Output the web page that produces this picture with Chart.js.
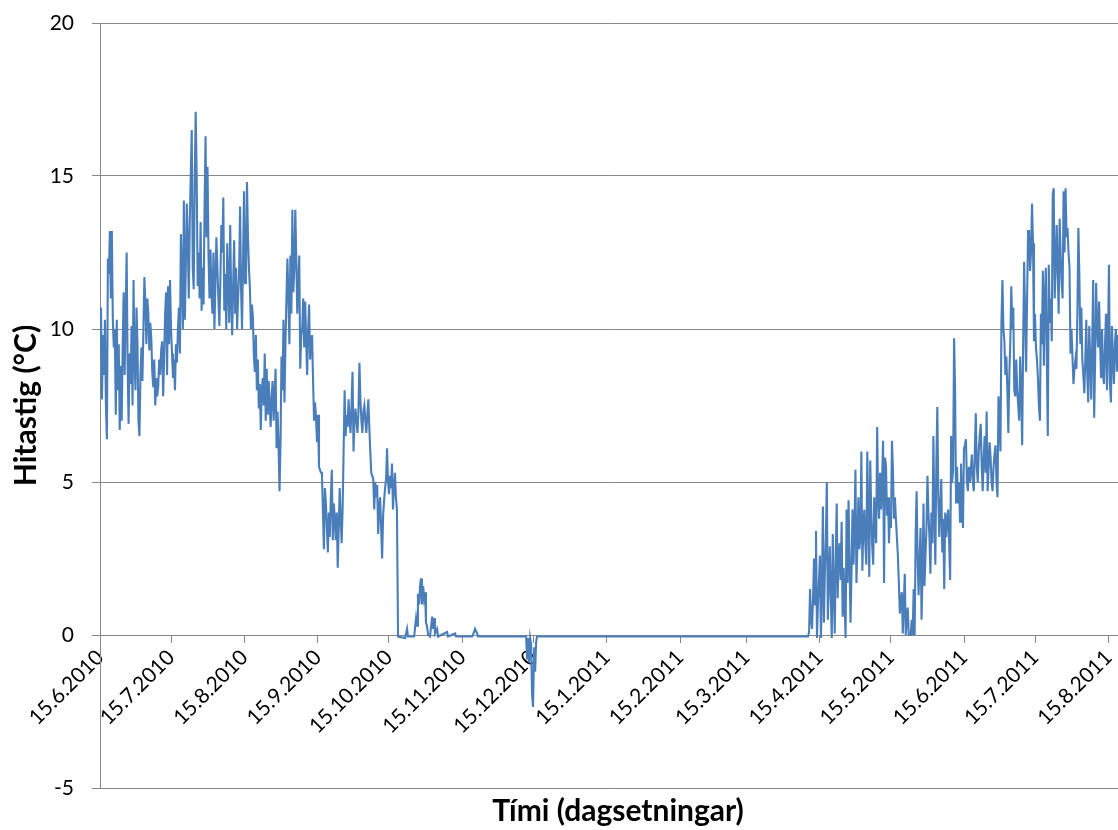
<!DOCTYPE html>
<html>
<head>
<meta charset="utf-8">
<script src="https://cdn.jsdelivr.net/npm/chart.js@4.4.0/dist/chart.umd.min.js"></script>
<style>
  html, body { margin: 0; padding: 0; background: #fff; }
  #chart { display: block; }
</style>
</head>
<body>
<canvas id="chart" width="1118" height="830"></canvas>
<script>
// Dates on the time axis and where they fall, in days after 15.6.2010
const tickLabels = ['15.6.2010', '15.7.2010', '15.8.2010', '15.9.2010', '15.10.2010', '15.11.2010', '15.12.2010',
    '15.1.2011', '15.2.2011', '15.3.2011', '15.4.2011', '15.5.2011', '15.6.2011', '15.7.2011', '15.8.2011'];
const tickDays = [0, 30, 61, 92, 122, 153, 183, 214, 245, 273, 304, 334, 365, 395, 426];
const lastDay = 430;

// Logger readings, one every 10 hours
const readingStep = 10 / 24;

// Summer / autumn 2010, starting 15.6.2010
const summerStart = 0;
const summerTemps = [
    9.2, 10.7, 7.7, 9.8, 8.5, 10.3, 7.5, 6.4, 12.3, 11.8,
    13.2, 11.0, 13.2, 10.3, 9.4, 10.0, 7.2, 10.3, 8.0, 9.5,
    6.7, 8.8, 7.0, 9.5, 11.2, 8.5, 10.5, 12.5, 8.8, 6.9,
    9.2, 8.2, 10.1, 7.5, 11.6, 9.0, 8.0, 10.7, 9.5, 7.0,
    6.5, 8.5, 9.4, 8.3, 10.0, 11.7, 10.8, 9.5, 11.0, 10.5,
    9.3, 10.2, 9.7, 8.6, 8.1, 9.0, 7.5, 8.4, 7.8, 8.1, 9.0,
    8.5, 9.3, 9.6, 7.8, 9.0, 10.5, 11.2, 8.5, 11.4, 9.5,
    11.6, 10.0, 9.2, 8.4, 9.0, 8.0, 9.5, 8.9, 10.0, 10.7,
    9.2, 13.1, 11.7, 10.0, 14.2, 10.3, 12.0, 14.1, 12.8, 11.0,
    13.5, 15.0, 16.5, 12.0, 11.3, 14.8, 17.1, 15.0, 11.4, 12.5,
    11.0, 13.5, 10.6, 12.0, 10.8, 14.0, 16.3, 13.0, 15.3, 12.4, 11.0,
    12.6, 11.2, 10.5, 12.5, 10.0, 11.5, 13.0, 12.0, 11.0, 10.1,
    11.5, 13.4, 12.5, 14.3, 10.6, 11.8, 10.0, 12.8, 11.4, 10.2,
    13.4, 11.0, 9.8, 11.5, 12.9, 10.5, 12.0, 10.0, 11.0, 11.8,
    14.0, 11.3, 10.0, 12.2, 14.5, 11.5, 11.6, 14.8, 13.0, 12.0,
    11.3, 10.0, 10.8, 10.4, 9.1, 8.6, 9.8, 8.0, 9.0, 7.4, 8.2,
    6.7, 8.0, 8.4, 7.5, 9.2, 7.0, 8.7, 7.2, 8.3, 7.5,
    6.8, 7.8, 8.3, 7.0, 7.8, 8.7, 6.1, 7.3, 6.2, 4.7,
    6.3, 9.1, 8.0, 10.3, 7.6, 9.5, 11.0, 12.3, 11.0, 9.5,
    12.4, 10.5, 13.9, 11.2, 12.0, 13.9, 12.3, 10.5, 11.5, 12.4,
    8.7, 9.8, 10.0, 11.0, 9.4, 10.9, 9.6, 8.5, 10.0, 10.8, 9.0,
    9.6, 9.8, 8.3, 7.0, 7.6, 7.1, 6.3, 7.2, 5.5, 5.4,
    5.3, 5.3, 4.0, 2.8, 4.8, 4.3, 3.5, 2.7, 4.0, 3.2,
    4.5, 5.4, 3.1, 4.3, 3.8, 3.1, 4.0, 2.2, 3.5, 4.8,
    3.8, 3.0, 4.2, 6.1, 8.0, 6.5, 7.2, 6.8, 7.7, 7.0,
    6.6, 7.5, 8.6, 6.0, 7.0, 7.4, 7.0, 6.6, 7.3, 8.9,
    7.7, 7.0, 6.6, 7.3, 7.5, 7.0, 6.6, 7.2, 7.7, 6.8,
    6.0, 5.3, 5.2, 5.1, 4.1, 5.0, 4.5, 4.9, 3.3, 4.2,
    4.5, 3.5, 2.5, 3.9, 4.4, 4.8, 5.1, 6.1, 5.0, 4.6,
    5.2, 4.8, 5.6, 4.1, 4.8, 5.3, 4.5, 4.1
];

// Winter: logger close to 0 °C, only the changes are listed
const winterDays = [
    125.9, 128.9, 129.7, 130.1, 132.7, 133.5, 133.9, 134.3, 134.8, 135.2,
    135.6, 136.0, 136.5, 136.9, 137.3, 137.7, 138.1, 138.6, 139.4, 140.3,
    140.7, 141.1, 141.5, 142.4, 142.8, 146.6, 147.0, 150.0, 150.4, 157.2,
    158.0, 158.4, 159.3, 159.7, 180.0, 180.4, 180.8, 181.2, 181.7, 182.1,
    182.5, 182.9, 183.4, 183.8, 184.2, 184.6, 298.6
];
const winterTemps = [
    -0.05, -0.1, 0.2, -0.05, -0.05, 0.55, 0.3, 1.35, 1.0, 1.6,
    1.85, 1.0, 1.6, 1.2, 1.4, 0.4, 0.3, 0.0, -0.05, 0.6,
    0.2, 0.55, 0.05, 0.2, -0.05, 0.1, -0.05, 0.05, -0.05, -0.05,
    0.1, 0.2, 0.05, -0.05, -0.05, -0.8, -0.1, -0.9, -0.1, -0.3,
    -1.9, -2.35, -0.4, -1.2, -0.25, -0.05, -0.05
];

// Spring / summer 2011
const springStart = 299.1;
const springTemps = [
    -0.05, 0.1, 1.5, 0.5, 0.2, 1.2, 2.5, 1.0, 3.4, -0.1, 1.0, 1.8,
    2.6, -0.1, 1.5, 4.2, 0.4, 2.0, 3.2, 5.0, 0.5, 1.8,
    2.9, 1.2, -0.1, 3.3, 1.5, 0.05, 2.5, 4.3, 1.2, 2.6,
    3.0, 1.8, 3.7, 0.6, 2.2, 1.0, -0.1, 4.1, 1.7, 4.4,
    2.5, 0.4, 2.0, 4.1, 2.3, 3.5, 5.4, 1.7, 3.0, 4.5,
    2.8, 3.2, 6.0, 2.1, 3.5, 4.1, 3.0, 2.3, 6.0, 4.0,
    1.9, 5.7, 4.0, 2.9, 2.3, 4.5, 3.5, 3.0, 6.8, 4.5,
    3.8, 5.3, 4.1, 5.0, 6.35, 1.7, 5.8, 5.5, 3.9, 4.5,
    3.0, 4.0, 3.5, 6.35, 5.4, 3.8, 4.5, 3.8, 3.2, 2.6,
    1.7, 0.7, 1.2, 1.4, 0.05, 1.0, 2.0, 0.0, 0.5, 0.9,
    0.0, 0.0, 0.0, 0.5, 0.0, 1.5, 0.0, 3.2, 4.7, 2.5,
    1.3, 2.5, 3.5, 0.5, 2.0, 4.3, 1.6, 2.6, 3.5, 5.2,
    4.0, 3.2, 2.0, 4.0, 3.0, 6.5, 4.0, 2.3, 5.6, 7.45,
    4.5, 3.2, 4.2, 5.1, 2.7, 3.8, 1.5, 4.0, 3.2, 3.8,
    4.1, 3.0, 1.8, 6.5, 5.0, 5.4, 9.7, 8.0, 4.3, 5.5,
    4.3, 5.0, 3.7, 5.6, 4.5, 3.5, 6.1, 6.2, 6.4, 5.0,
    4.7, 5.5, 5.0, 5.4, 5.9, 5.0, 4.7, 6.0, 7.25, 5.5,
    5.0, 6.0, 6.5, 6.9, 5.5, 4.7, 5.8, 6.5, 5.3, 7.3,
    4.7, 5.5, 6.3, 5.8, 5.0, 4.7, 5.5, 5.9, 6.2, 5.0,
    4.5, 7.8, 7.0, 6.0, 10.2, 11.6, 10.0, 9.6, 8.5, 9.1,
    8.0, 6.6, 8.5, 9.6, 11.4, 10.0, 10.7, 8.0, 7.8, 9.0,
    8.0, 7.5, 7.0, 9.1, 8.0, 6.2, 9.5, 12.2, 10.4, 8.6,
    11.0, 13.2, 13.2, 11.9, 12.5, 14.1, 12.8, 9.6, 10.5, 9.4,
    9.0, 8.4, 7.5, 7.0, 10.5, 9.5, 11.9, 8.8, 11.0, 12.0,
    9.0, 6.5, 12.1, 10.2, 11.0, 9.6, 14.4, 14.6, 11.0, 12.0,
    13.4, 12.0, 10.5, 13.6, 12.4, 11.5, 11.0, 14.5, 12.5, 14.6,
    13.0, 13.3, 12.5, 12.0, 9.2, 10.0, 9.1, 8.2, 8.7, 9.0,
    8.7, 10.5, 13.3, 11.7, 9.5, 10.7, 9.0, 8.5, 7.9, 9.0,
    10.3, 8.5, 7.6, 10.1, 9.0, 7.7, 9.5, 11.6, 7.1, 9.0,
    11.5, 10.0, 9.4, 10.9, 9.5, 8.4, 10.0, 8.5, 8.2, 9.5,
    10.5, 8.0, 9.5, 12.1, 8.2, 7.6, 10.1, 9.0, 8.2, 9.5,
    10.0, 8.6, 9.8, 9.2
];

const points = [];
summerTemps.forEach((t, i) => points.push({ x: summerStart + i * readingStep, y: t }));
winterDays.forEach((d, i) => points.push({ x: d, y: winterTemps[i] }));
springTemps.forEach((t, i) => points.push({ x: springStart + i * readingStep, y: t }));

const gridColor = '#878787';
Chart.defaults.font.family = 'Lato, "Liberation Sans", sans-serif';
Chart.defaults.color = '#000';

// the axis title sits a little right of the plot centre in the original
const nudgeTitle = {
    id: 'nudgeTitle',
    afterLayout(chart) {
        chart.scales.xTitle.left += 18;
    }
};

new Chart(document.getElementById('chart'), {
    type: 'line',
    data: {
        datasets: [{
            data: points,
            borderColor: '#4a7ebb',
            borderWidth: 2.1,
            pointRadius: 0,
            tension: 0,
            fill: false
        }]
    },
    plugins: [nudgeTitle],
    options: {
        responsive: false,
        animation: false,
        devicePixelRatio: 1,
        layout: { padding: { top: 23, right: 0, bottom: 0, left: 0 } },
        plugins: {
            legend: { display: false },
            tooltip: { enabled: false }
        },
        scales: {
            x: {
                type: 'linear',
                position: { y: 0 },
                min: 0,
                max: lastDay,
                afterBuildTicks: (scale) => {
                    scale.ticks = tickDays.map(d => ({ value: d }));
                },
                afterFit: (scale) => {
                    scale.paddingLeft = 0;
                    scale.paddingRight = 0;
                },
                ticks: {
                    autoSkip: false,
                    minRotation: 45,
                    maxRotation: 45,
                    padding: 3,
                    font: { size: 21 },
                    callback: (v) => tickLabels[tickDays.indexOf(v)]
                },
                grid: { drawOnChartArea: false, drawTicks: true, tickLength: 7, color: gridColor },
                border: { color: gridColor }
            },
            xTitle: {
                type: 'linear',
                position: 'bottom',
                min: 0,
                max: lastDay,
                ticks: { display: false },
                grid: { display: false },
                border: { display: false },
                afterFit: (scale) => { scale.height = 42; },
                title: {
                    display: true,
                    text: 'Tími (dagsetningar)',
                    font: { size: 30, weight: 'bold' },
                    padding: { top: 0, bottom: 1 }
                }
            },
            y: {
                min: -5,
                max: 20,
                ticks: { stepSize: 5, padding: 18, font: { size: 21 } },
                grid: { color: gridColor, tickLength: 8 },
                border: { color: gridColor },
                afterFit: (scale) => {
                    scale.width = 100;
                    scale.paddingTop = 0;
                    scale.paddingBottom = 0;
                },
                title: {
                    display: true,
                    text: 'Hitastig (°C)',
                    font: { size: 30, weight: 'bold' },
                    padding: { top: 8, bottom: 0 }
                }
            }
        }
    }
});
</script>
</body>
</html>
